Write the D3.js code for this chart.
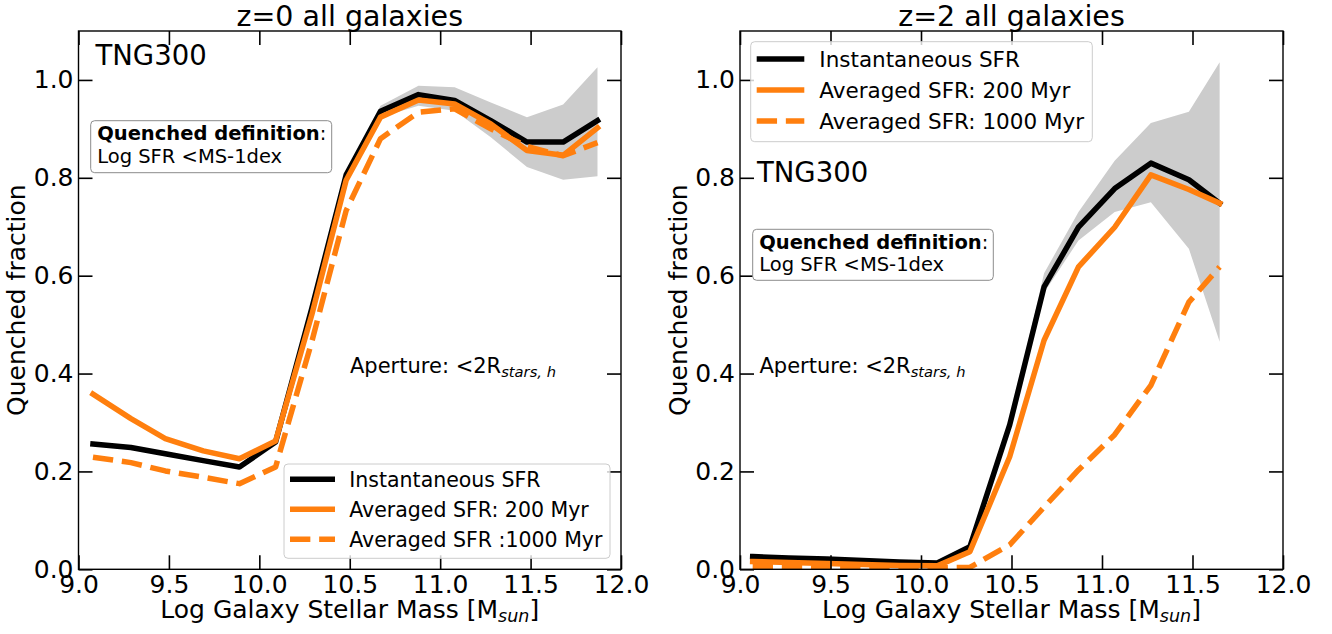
<!DOCTYPE html>
<html>
<head>
<meta charset="utf-8">
<script src="https://cdn.jsdelivr.net/npm/d3@7"></script>
<style>
  html, body { margin: 0; padding: 0; background: #fff; }
  svg { display: block; font-family: "DejaVu Sans", sans-serif; }
</style>
</head>
<body>
<svg id="chart" width="1332" height="634"></svg>
<script>
// ---- z = 0 : quenched fraction per stellar-mass bin ----
const massZ0     = [9.08, 9.29, 9.48, 9.69, 9.89, 10.09, 10.29, 10.48, 10.67, 10.88, 11.08, 11.28, 11.48, 11.68, 11.87];
const instZ0     = [0.256, 0.249, 0.236, 0.222, 0.209, 0.260, 0.533, 0.806, 0.936, 0.970, 0.958, 0.917, 0.873, 0.873, 0.917];
const avg200Z0   = [0.358, 0.308, 0.267, 0.242, 0.226, 0.262, 0.520, 0.795, 0.924, 0.959, 0.951, 0.910, 0.856, 0.846, 0.902];
const avg1000Z0  = [0.229, 0.218, 0.201, 0.188, 0.175, 0.209, 0.465, 0.733, 0.880, 0.934, 0.941, 0.900, 0.864, 0.845, 0.872];
const bandMassZ0 = [10.48, 10.67, 10.88, 11.08, 11.28, 11.48, 11.68, 11.87];
const bandLowZ0  = [0.800, 0.924, 0.947, 0.937, 0.883, 0.822, 0.796, 0.803];
const bandHighZ0 = [0.812, 0.947, 0.988, 0.985, 0.954, 0.924, 0.950, 1.026];

// ---- z = 2 ----
const massZ2     = [9.07, 9.27, 9.48, 9.68, 9.88, 10.09, 10.27, 10.49, 10.68, 10.87, 11.07, 11.27, 11.48, 11.65];
const instZ2     = [0.026, 0.023, 0.021, 0.018, 0.015, 0.013, 0.046, 0.295, 0.577, 0.699, 0.778, 0.830, 0.796, 0.748];
const avg200Z2   = [0.016, 0.014, 0.012, 0.010, 0.008, 0.007, 0.036, 0.230, 0.468, 0.618, 0.699, 0.806, 0.776, 0.748];
const avg1000Z2  = [0.006, 0.005, 0.005, 0.004, 0.004, 0.003, 0.004, 0.050, 0.127, 0.203, 0.275, 0.376, 0.546, 0.618];
const bandMassZ2 = [10.49, 10.68, 10.87, 11.07, 11.27, 11.48, 11.65];
const bandLowZ2  = [0.290, 0.565, 0.672, 0.730, 0.750, 0.655, 0.465];
const bandHighZ2 = [0.302, 0.605, 0.730, 0.835, 0.912, 0.935, 1.036];

// ---- axes ----
const xTicks = [9.0, 9.5, 10.0, 10.5, 11.0, 11.5, 12.0];
const yTicks = [0.0, 0.2, 0.4, 0.6, 0.8, 1.0];
const xDomain = [9.0, 12.0];
const yDomain = [0.0, 1.1];

const titlesText = ["z=0 all galaxies", "z=2 all galaxies"];
const legendZ0 = ["Instantaneous SFR", "Averaged SFR: 200 Myr", "Averaged SFR :1000 Myr"];
const legendZ2 = ["Instantaneous SFR", "Averaged SFR: 200 Myr", "Averaged SFR: 1000 Myr"];

const ORANGE = "#ff7f0e";
const LW = 5.5;
const DASH = [LW * 3.7, LW * 1.6].join(",");

const svg = d3.select("#chart");

const panels = [
  {
    left: 78.5, right: 621, top: 31, bottom: 569.3,
    title: titlesText[0],
    mass: massZ0, series: [instZ0, avg200Z0, avg1000Z0],
    band: { mass: bandMassZ0, lo: bandLowZ0, hi: bandHighZ0 },
    labels: legendZ0,
    legend: { x: 284, y: 464, w: 326, h: 94.3, font: 20.5, rowY: [15.3, 45.3, 75.3], hx: 6, hlen: 45, tx: 65.3 },
    tng: { x: 95.5, y: 65 },
    qbox: { x: 90.7, y: 120.7, w: 241, h: 52 },
    aperture: { x: 350, y: 373 }
  },
  {
    left: 740, right: 1283, top: 31, bottom: 569.3,
    title: titlesText[1],
    mass: massZ2, series: [instZ2, avg200Z2, avg1000Z2],
    band: { mass: bandMassZ2, lo: bandLowZ2, hi: bandHighZ2 },
    labels: legendZ2,
    legend: { x: 750.7, y: 41.7, w: 341.6, h: 100, font: 21.5, rowY: [17.3, 48.3, 79.3], hx: 6, hlen: 47.6, tx: 68.6 },
    tng: { x: 757, y: 182.3 },
    qbox: { x: 752.7, y: 229.3, w: 240.6, h: 51 },
    aperture: { x: 759.5, y: 373 }
  }
];

const styles = [
  { color: "#000000", dash: null },
  { color: ORANGE, dash: null },
  { color: ORANGE, dash: DASH }
];

panels.forEach(p => {
  const x = d3.scaleLinear().domain(xDomain).range([p.left, p.right]);
  const y = d3.scaleLinear().domain(yDomain).range([p.bottom, p.top]);
  const g = svg.append("g");

  // clip to plotting area
  const clipId = "clip" + Math.round(p.left);
  svg.append("clipPath").attr("id", clipId)
    .append("rect").attr("x", p.left).attr("y", p.top)
    .attr("width", p.right - p.left).attr("height", p.bottom - p.top);
  const plot = g.append("g").attr("clip-path", `url(#${clipId})`);

  // scatter band around the instantaneous fraction
  const bandPts = p.band.mass.map((m, i) => ({ m, lo: p.band.lo[i], hi: p.band.hi[i] }));
  plot.append("path")
    .datum(bandPts)
    .attr("fill", "#cccccc")
    .attr("d", d3.area().x(d => x(d.m)).y0(d => y(d.lo)).y1(d => y(d.hi)));

  // fraction curves
  p.series.forEach((vals, k) => {
    const pts = p.mass.map((m, i) => ({ m, v: vals[i] }));
    plot.append("path")
      .datum(pts)
      .attr("fill", "none")
      .attr("stroke", styles[k].color)
      .attr("stroke-width", LW)
      .attr("stroke-linejoin", "round")
      .attr("stroke-linecap", styles[k].dash ? "butt" : "square")
      .attr("stroke-dasharray", styles[k].dash)
      .attr("d", d3.line().x(d => x(d.m)).y(d => y(d.v)));
  });

  // axes with inward ticks on all four sides
  const fmt = d3.format(".1f");
  const axB = g.append("g").attr("transform", `translate(0,${p.bottom})`)
    .call(d3.axisBottom(x).tickValues(xTicks).tickFormat(fmt).tickSizeInner(-14).tickSizeOuter(0).tickPadding(6));
  const axT = g.append("g").attr("transform", `translate(0,${p.top})`)
    .call(d3.axisTop(x).tickValues(xTicks).tickFormat("").tickSizeInner(-14).tickSizeOuter(0));
  const axL = g.append("g").attr("transform", `translate(${p.left},0)`)
    .call(d3.axisLeft(y).tickValues(yTicks).tickFormat(fmt).tickSizeInner(-14).tickSizeOuter(0).tickPadding(5));
  const axR = g.append("g").attr("transform", `translate(${p.right},0)`)
    .call(d3.axisRight(y).tickValues(yTicks).tickFormat("").tickSizeInner(-14).tickSizeOuter(0));
  [axB, axT, axL, axR].forEach(a => {
    a.select(".domain").remove();
    a.selectAll(".tick line").attr("stroke", "#000").attr("stroke-width", 1.6);
    a.selectAll(".tick text").attr("fill", "#000").attr("font-size", 25)
      .attr("font-family", "DejaVu Sans");
  });

  // frame
  g.append("rect")
    .attr("x", p.left).attr("y", p.top)
    .attr("width", p.right - p.left).attr("height", p.bottom - p.top)
    .attr("fill", "none").attr("stroke", "#000").attr("stroke-width", 1.4);

  // title
  g.append("text")
    .attr("x", (p.left + p.right) / 2).attr("y", 26)
    .attr("text-anchor", "middle").attr("font-size", 28.5)
    .text(p.title);

  // axis labels
  const xl = g.append("text")
    .attr("x", (p.left + p.right) / 2).attr("y", 618)
    .attr("text-anchor", "middle").attr("font-size", 25);
  xl.append("tspan").text("Log Galaxy Stellar Mass [M");
  xl.append("tspan").attr("font-style", "italic").attr("font-size", 17.5).attr("dy", 4).text("sun");
  xl.append("tspan").attr("dy", -4).text("]");

  g.append("text")
    .attr("transform", `translate(${p.left - 53.5},${(p.top + p.bottom) / 2}) rotate(-90)`)
    .attr("text-anchor", "middle").attr("font-size", 25)
    .text("Quenched fraction");

  // simulation label
  g.append("text").attr("x", p.tng.x).attr("y", p.tng.y)
    .attr("font-size", 27.5).text("TNG300");

  // quenching criterion box
  const qb = p.qbox;
  g.append("rect")
    .attr("x", qb.x).attr("y", qb.y).attr("width", qb.w).attr("height", qb.h)
    .attr("rx", 4).attr("ry", 4)
    .attr("fill", "#fff").attr("stroke", "#8c8c8c").attr("stroke-width", 1);
  const q1 = g.append("text").attr("x", qb.x + 6.5).attr("y", qb.y + 19.5).attr("font-size", 19.5);
  q1.append("tspan").attr("font-weight", "bold").text("Quenched definition");
  q1.append("tspan").text(":");
  g.append("text").attr("x", qb.x + 6.5).attr("y", qb.y + 42).attr("font-size", 19.5)
    .text("Log SFR <MS-1dex");

  // aperture annotation
  const ap = g.append("text").attr("x", p.aperture.x).attr("y", p.aperture.y).attr("font-size", 21);
  ap.append("tspan").text("Aperture: <2R");
  ap.append("tspan").attr("font-style", "italic").attr("font-size", 14.7).attr("dy", 3.5).text("stars, h");

  // legend
  const L = p.legend;
  const lg = g.append("g").attr("transform", `translate(${L.x},${L.y})`);
  lg.append("rect")
    .attr("width", L.w).attr("height", L.h).attr("rx", 4).attr("ry", 4)
    .attr("fill", "#fff").attr("fill-opacity", 0.8)
    .attr("stroke", "#cccccc").attr("stroke-width", 1);
  p.labels.forEach((lab, k) => {
    const yy = L.rowY[k];
    const dashed = !!styles[k].dash;
    const cap = dashed ? 0 : LW / 2;
    lg.append("line")
      .attr("x1", L.hx + cap).attr("x2", L.hx + L.hlen - cap)
      .attr("y1", yy).attr("y2", yy)
      .attr("stroke", styles[k].color).attr("stroke-width", LW)
      .attr("stroke-linecap", dashed ? "butt" : "square")
      .attr("stroke-dasharray", styles[k].dash);
    lg.append("text")
      .attr("x", L.tx).attr("y", yy + L.font * 0.36)
      .attr("font-size", L.font).text(lab);
  });
});
</script>
</body>
</html>
